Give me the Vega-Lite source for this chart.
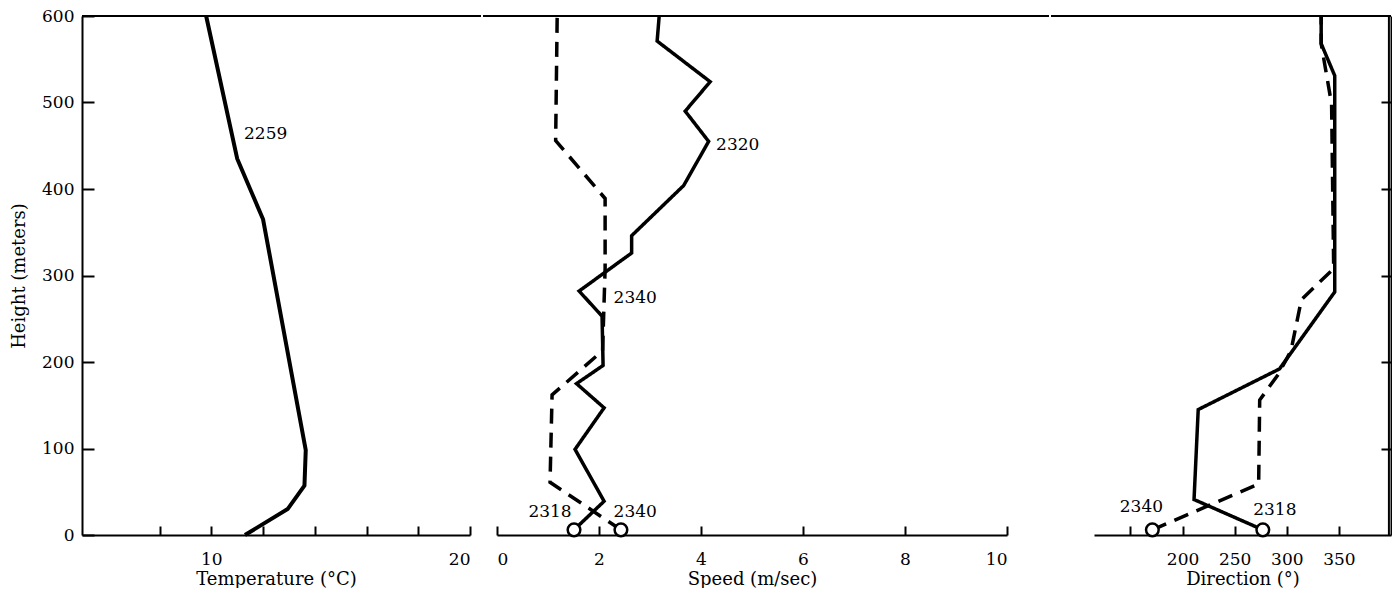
{
  "$schema": "https://vega.github.io/schema/vega-lite/v6.json",
  "padding": {"left": 10, "top": 7, "right": 0, "bottom": 0},
  "spacing": 0,
  "config": {
    "view": {"stroke": null},
    "font": "DejaVu Serif",
    "axis": {
      "domainColor": "black", "domainWidth": 2, "tickColor": "black", "tickWidth": 2,
      "labelColor": "black", "titleColor": "black", "labelFont": "DejaVu Serif", "titleFont": "DejaVu Serif",
      "labelFontSize": 17, "titleFontSize": 18, "titleFontWeight": "normal", "labelFontWeight": "normal", "grid": false
    }
  },
  "datasets": {
    "temp": [
      {"h": 0, "t": 11.3}, {"h": 30, "t": 12.95}, {"h": 57, "t": 13.6}, {"h": 98, "t": 13.65},
      {"h": 365, "t": 12.0}, {"h": 435, "t": 11.0}, {"h": 600, "t": 9.8}
    ],
    "tempLabels": [{"x": 12.1, "h": 464, "label": "2259"}],
    "speed": [
      {"run": "2318", "h": 6, "v": 1.51}, {"run": "2318", "h": 39, "v": 2.1}, {"run": "2318", "h": 99, "v": 1.53},
      {"run": "2318", "h": 147, "v": 2.1}, {"run": "2318", "h": 175, "v": 1.56}, {"run": "2318", "h": 196, "v": 2.08},
      {"run": "2318", "h": 253, "v": 2.06}, {"run": "2318", "h": 282, "v": 1.61}, {"run": "2318", "h": 326, "v": 2.64},
      {"run": "2318", "h": 346, "v": 2.64}, {"run": "2318", "h": 404, "v": 3.66}, {"run": "2318", "h": 455, "v": 4.15},
      {"run": "2318", "h": 490, "v": 3.69}, {"run": "2318", "h": 524, "v": 4.18}, {"run": "2318", "h": 571, "v": 3.14},
      {"run": "2318", "h": 600, "v": 3.18},
      {"run": "2340", "h": 6, "v": 2.43}, {"run": "2340", "h": 61, "v": 1.04}, {"run": "2340", "h": 162, "v": 1.08},
      {"run": "2340", "h": 213, "v": 2.07}, {"run": "2340", "h": 308, "v": 2.12}, {"run": "2340", "h": 389, "v": 2.12},
      {"run": "2340", "h": 456, "v": 1.15}, {"run": "2340", "h": 600, "v": 1.18}
    ],
    "speedLabels": [
      {"x": 4.72, "h": 451, "label": "2320"}, {"x": 2.71, "h": 274, "label": "2340"},
      {"x": 1.04, "h": 27, "label": "2318"}, {"x": 2.71, "h": 27, "label": "2340"}
    ],
    "dir": [
      {"run": "2318", "h": 6, "d": 277}, {"run": "2318", "h": 41, "d": 211}, {"run": "2318", "h": 145, "d": 215},
      {"run": "2318", "h": 192, "d": 293}, {"run": "2318", "h": 281, "d": 346}, {"run": "2318", "h": 531, "d": 346},
      {"run": "2318", "h": 568, "d": 333}, {"run": "2318", "h": 600, "d": 333},
      {"run": "2340", "h": 6, "d": 171}, {"run": "2340", "h": 59, "d": 273}, {"run": "2340", "h": 156, "d": 274},
      {"run": "2340", "h": 186, "d": 292}, {"run": "2340", "h": 213, "d": 304}, {"run": "2340", "h": 272, "d": 314},
      {"run": "2340", "h": 308, "d": 345}, {"run": "2340", "h": 498, "d": 343}, {"run": "2340", "h": 568, "d": 333},
      {"run": "2340", "h": 600, "d": 333}
    ],
    "dirLabels": [{"x": 160.5, "h": 32, "label": "2340"}, {"x": 288.5, "h": 29, "label": "2318"}]
  },
  "resolve": {"scale": {"x": "independent", "y": "independent", "strokeDash": "independent"}, "axis": {"y": "independent"}},
  "hconcat": [
    {
      "width": 399, "height": 519,
      "layer": [
        {
          "data": {"name": "temp"},
          "mark": {"type": "line", "color": "black", "strokeWidth": 4},
          "encoding": {
            "x": {"field": "t", "type": "quantitative",
              "scale": {"domain": [5, 20], "range": [0, 388], "nice": false, "zero": false},
              "axis": {"title": "Temperature (°C)", "values": [8, 10, 12, 14, 16, 18, 20],
                "labelExpr": "datum.value == 10 || datum.value == 20 ? datum.label : ''",
                "tickSize": -9, "labelPadding": 25, "titlePadding": 3}},
            "y": {"field": "h", "type": "quantitative",
              "scale": {"domain": [0, 600], "nice": false},
              "axis": {"title": "Height (meters)", "values": [0, 100, 200, 300, 400, 500, 600],
                "tickSize": -12, "labelPadding": 20, "titlePadding": 13}},
            "order": {"field": "h", "type": "quantitative"}
          }
        },
        {
          "data": {"name": "tempLabels"},
          "mark": {"type": "text", "fontSize": 17, "color": "black"},
          "encoding": {
            "x": {"field": "x", "type": "quantitative"},
            "y": {"field": "h", "type": "quantitative"},
            "text": {"field": "label"}
          }
        },
        {
          "data": {"values": [{}]},
          "mark": {"type": "rule", "color": "black", "strokeWidth": 2},
          "encoding": {"y": {"datum": 600}}
        }
      ]
    },
    {
      "width": 566, "height": 519,
      "layer": [
        {
          "data": {"name": "speed"},
          "mark": {"type": "line", "color": "black", "strokeWidth": 3.5},
          "encoding": {
            "x": {"field": "v", "type": "quantitative",
              "scale": {"domain": [0, 10], "range": [14, 524], "nice": false},
              "axis": {"title": "Speed (m/sec)", "values": [0, 2, 4, 6, 8, 10], "format": "d",
                "tickSize": -9, "labelPadding": 25, "titlePadding": 3}},
            "y": {"field": "h", "type": "quantitative", "scale": {"domain": [0, 600], "nice": false}, "axis": null},
            "detail": {"field": "run"},
            "strokeDash": {"field": "run", "type": "nominal",
              "scale": {"domain": ["2318", "2340"], "range": [[1, 0], [15, 9]]}, "legend": null},
            "order": {"field": "h", "type": "quantitative"}
          }
        },
        {
          "data": {"name": "speed"},
          "transform": [{"filter": "datum.h < 10"}],
          "mark": {"type": "point", "shape": "circle", "filled": true, "fill": "white", "stroke": "black", "strokeWidth": 2.5, "size": 160, "opacity": 1},
          "encoding": {
            "x": {"field": "v", "type": "quantitative"},
            "y": {"field": "h", "type": "quantitative"}
          }
        },
        {
          "data": {"name": "speedLabels"},
          "mark": {"type": "text", "fontSize": 17, "color": "black"},
          "encoding": {
            "x": {"field": "x", "type": "quantitative"},
            "y": {"field": "h", "type": "quantitative"},
            "text": {"field": "label"}
          }
        },
        {
          "data": {"values": [{}]},
          "mark": {"type": "rule", "color": "black", "strokeWidth": 2},
          "encoding": {"y": {"datum": 600}}
        }
      ]
    },
    {
      "width": 340, "height": 519,
      "layer": [
        {
          "data": {"name": "dir"},
          "mark": {"type": "line", "color": "black", "strokeWidth": 3.5},
          "encoding": {
            "x": {"field": "d", "type": "quantitative",
              "scale": {"domain": [115, 400], "range": [43, 340], "nice": false, "zero": false},
              "axis": {"title": "Direction (°)", "values": [150, 200, 250, 300, 350],
                "labelExpr": "datum.value == 150 ? '' : datum.label",
                "tickSize": -9, "labelPadding": 25, "titlePadding": 3}},
            "y": {"field": "h", "type": "quantitative", "scale": {"domain": [0, 600], "nice": false},
              "axis": {"orient": "right", "title": null, "labels": false, "domain": true, "values": [100, 200, 300, 400, 500], "tickSize": -10}},
            "detail": {"field": "run"},
            "strokeDash": {"field": "run", "type": "nominal",
              "scale": {"domain": ["2318", "2340"], "range": [[1, 0], [15, 9]]}, "legend": null},
            "order": {"field": "h", "type": "quantitative"}
          }
        },
        {
          "data": {"name": "dir"},
          "transform": [{"filter": "datum.h < 10"}],
          "mark": {"type": "point", "shape": "circle", "filled": true, "fill": "white", "stroke": "black", "strokeWidth": 2.5, "size": 160, "opacity": 1},
          "encoding": {
            "x": {"field": "d", "type": "quantitative"},
            "y": {"field": "h", "type": "quantitative"}
          }
        },
        {
          "data": {"name": "dirLabels"},
          "mark": {"type": "text", "fontSize": 17, "color": "black"},
          "encoding": {
            "x": {"field": "x", "type": "quantitative"},
            "y": {"field": "h", "type": "quantitative"},
            "text": {"field": "label"}
          }
        },
        {
          "data": {"values": [{}]},
          "mark": {"type": "rule", "color": "black", "strokeWidth": 2},
          "encoding": {"y": {"datum": 600}}
        },
        {
          "data": {"values": [{}]},
          "mark": {"type": "rule", "color": "black", "strokeWidth": 2},
          "encoding": {"x": {"datum": 398}}
        }
      ]
    }
  ]
}
